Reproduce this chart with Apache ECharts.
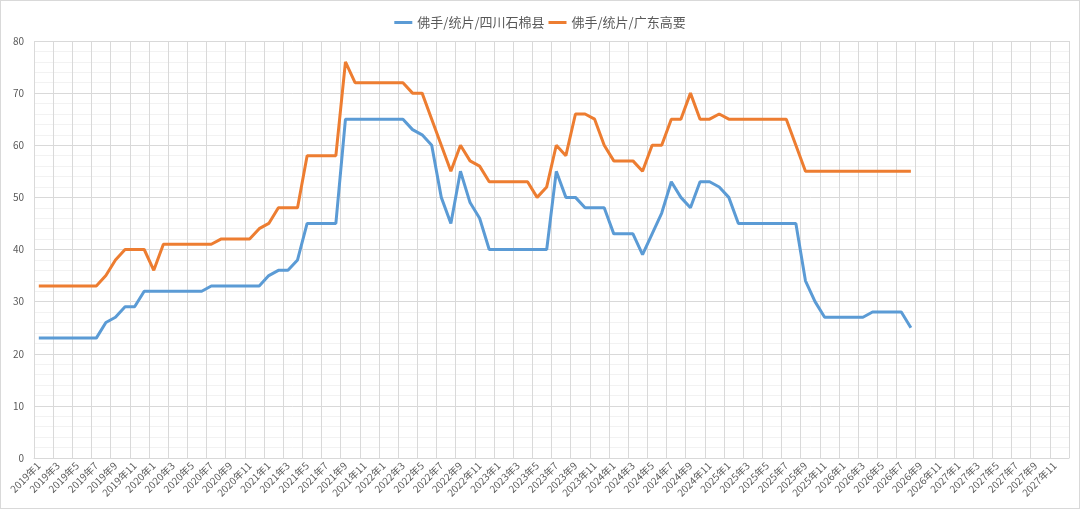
<!DOCTYPE html>
<html>
<head>
<meta charset="utf-8">
<script src="https://cdn.jsdelivr.net/npm/echarts@6/dist/echarts.min.js"></script>
<style>
  html, body { margin: 0; padding: 0; background: #fff; }
  #main { width: 1078px; height: 507px; border: 1px solid #d9d9d9; }
</style>
</head>
<body>
<div id="main"></div>
<script>
// 月份 2019年1 ~ 2027年12
var months = [];
for (var y = 2019; y <= 2027; y++) {
  for (var m = 1; m <= 12; m++) {
    months.push(y + '年' + m);
  }
}

var seriesNames = ['佛手/统片/四川石棉县', '佛手/统片/广东高要'];

// 四川石棉县 2019年1 ~ 2026年8
var sichuan = [
  23, 23, 23, 23, 23, 23, 23, 26, 27, 29, 29, 32,
  32, 32, 32, 32, 32, 32, 33, 33, 33, 33, 33, 33,
  35, 36, 36, 38, 45, 45, 45, 45, 65, 65, 65, 65,
  65, 65, 65, 63, 62, 60, 50, 45, 55, 49, 46, 40,
  40, 40, 40, 40, 40, 40, 55, 50, 50, 48, 48, 48,
  43, 43, 43, 39, 43, 47, 53, 50, 48, 53, 53, 52,
  50, 45, 45, 45, 45, 45, 45, 45, 34, 30, 27, 27,
  27, 27, 27, 28, 28, 28, 28, 25
];

// 广东高要 2019年1 ~ 2026年8
var guangdong = [
  33, 33, 33, 33, 33, 33, 33, 35, 38, 40, 40, 40,
  36, 41, 41, 41, 41, 41, 41, 42, 42, 42, 42, 44,
  45, 48, 48, 48, 58, 58, 58, 58, 76, 72, 72, 72,
  72, 72, 72, 70, 70, 65, 60, 55, 60, 57, 56, 53,
  53, 53, 53, 53, 50, 52, 60, 58, 66, 66, 65, 60,
  57, 57, 57, 55, 60, 60, 65, 65, 70, 65, 65, 66,
  65, 65, 65, 65, 65, 65, 65, 60, 55, 55, 55, 55,
  55, 55, 55, 55, 55, 55, 55, 55
];

var chart = echarts.init(document.getElementById('main'));

var labelColor = '#595959';
var gridColor = '#d9d9d9';

var option = {
  animation: false,
  color: ['#5b9bd5', '#ed7d31'],
  legend: {
    top: 10,
    left: 'center',
    itemWidth: 18,
    itemHeight: 3,
    itemGap: 4,
    icon: 'rect',
    textStyle: {
      color: labelColor,
      fontSize: 13,
      fontFamily: 'Noto Sans CJK SC'
    },
    data: seriesNames
  },
  grid: {
    left: 33,
    right: 10,
    top: 40,
    bottom: 50,
    containLabel: false
  },
  xAxis: {
    type: 'category',
    boundaryGap: true,
    data: months,
    axisLine: { lineStyle: { color: gridColor } },
    axisTick: { show: false },
    axisLabel: {
      interval: 1,
      rotate: 45,
      color: labelColor,
      fontSize: 10,
      margin: 6,
      fontFamily: 'Noto Sans CJK SC'
    },
    splitLine: {
      show: true,
      interval: 1,
      lineStyle: { color: gridColor, width: 1 }
    }
  },
  yAxis: {
    type: 'value',
    min: 0,
    max: 80,
    interval: 10,
    axisLine: { show: false },
    axisTick: { show: false },
    axisLabel: {
      color: labelColor,
      fontSize: 10,
      margin: 10,
      fontFamily: 'Noto Sans CJK SC'
    },
    splitLine: { lineStyle: { color: gridColor } },
    minorTick: { show: false, splitNumber: 5 },
    minorSplitLine: {
      show: true,
      lineStyle: { color: '#f2f2f2' }
    }
  },
  series: [
    {
      name: seriesNames[0],
      type: 'line',
      data: sichuan,
      showSymbol: false,
      symbol: 'none',
      lineStyle: { width: 3 }
    },
    {
      name: seriesNames[1],
      type: 'line',
      data: guangdong,
      showSymbol: false,
      symbol: 'none',
      lineStyle: { width: 3 }
    }
  ]
};

chart.setOption(option);
</script>
</body>
</html>
